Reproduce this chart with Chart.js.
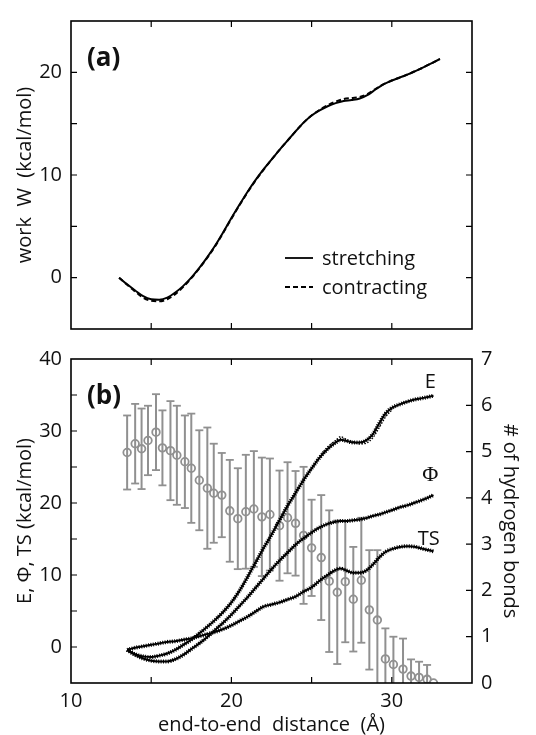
<!DOCTYPE html>
<html>
<head>
<meta charset="utf-8">
<script src="https://cdn.jsdelivr.net/npm/chart.js@4.4.1/dist/chart.umd.min.js"></script>
<style>
  html, body { margin: 0; padding: 0; background: #fff; }
  #wrap { position: relative; width: 536px; height: 735px; overflow: hidden; }
  .panel { position: absolute; left: 0; width: 536px; }
  #panelA { top: 0; height: 350px; }
  #panelB { top: 338px; height: 397px; }
</style>
</head>
<body>
<div id="wrap">
  <div class="panel" id="panelA"><canvas id="workChart"></canvas></div>
  <div class="panel" id="panelB"><canvas id="energyChart"></canvas></div>
</div>
<script>
// (a) work along the pulling coordinate
const workX = [13.0, 13.5, 14.0, 14.5, 15.0, 15.5, 16.0, 16.5, 17.0, 17.5, 18.0, 18.5, 19.0, 19.5, 20.0, 20.5, 21.0, 21.5, 22.0, 22.5, 23.0, 23.5, 24.0, 24.5, 25.0, 25.5, 26.0, 26.5, 27.0, 27.5, 28.0, 28.5, 29.0, 29.5, 30.0, 30.5, 31.0, 31.5, 32.0, 32.5, 33.0];
const workStretch = [0.0, -0.65, -1.25, -1.8, -2.1, -2.15, -1.95, -1.45, -0.8, 0.0, 0.95, 2.0, 3.15, 4.45, 5.8, 7.1, 8.35, 9.5, 10.55, 11.5, 12.45, 13.35, 14.25, 15.1, 15.8, 16.3, 16.7, 17.0, 17.2, 17.3, 17.45, 17.8, 18.35, 18.85, 19.2, 19.5, 19.8, 20.15, 20.5, 20.9, 21.3];
const workContract = [0.0, -0.7, -1.35, -1.95, -2.25, -2.3, -2.1, -1.6, -0.9, -0.05, 0.9, 1.95, 3.1, 4.4, 5.75, 7.05, 8.3, 9.45, 10.5, 11.5, 12.45, 13.35, 14.25, 15.1, 15.8, 16.35, 16.8, 17.15, 17.4, 17.5, 17.6, 17.9, 18.4, 18.85, 19.2, 19.5, 19.8, 20.15, 20.5, 20.9, 21.3];

// (b) energy, free energy and entropy terms
const energyX = [13.5, 14.0, 14.5, 15.0, 15.5, 16.0, 16.5, 17.0, 17.5, 18.0, 18.5, 19.0, 19.5, 20.0, 20.5, 21.0, 21.5, 22.0, 22.5, 23.0, 23.5, 24.0, 24.5, 25.0, 25.5, 26.0, 26.5, 26.8, 27.2, 27.6, 28.0, 28.4, 28.8, 29.2, 29.6, 30.0, 30.5, 31.0, 31.5, 32.0, 32.6];
const energyE = [-0.4, -1.0, -1.3, -1.4, -1.2, -0.9, -0.4, 0.3, 1.0, 1.9, 2.8, 3.8, 4.9, 6.2, 7.8, 9.7, 11.7, 13.7, 15.6, 17.6, 19.6, 21.4, 23.2, 24.8, 26.3, 27.5, 28.4, 28.8, 28.6, 28.4, 28.4, 28.7, 29.5, 31.0, 32.4, 33.2, 33.7, 34.1, 34.4, 34.6, 34.9];
const energyPhi = [-0.4, -1.1, -1.6, -1.9, -2.0, -2.0, -1.7, -1.1, -0.3, 0.5, 1.4, 2.4, 3.4, 4.5, 5.7, 6.9, 8.2, 9.5, 10.8, 12.0, 13.1, 14.2, 15.1, 15.9, 16.6, 17.1, 17.4, 17.5, 17.5, 17.6, 17.7, 17.9, 18.2, 18.4, 18.7, 19.0, 19.4, 19.7, 20.1, 20.5, 21.1];
const energyTS = [-0.4, -0.1, 0.1, 0.3, 0.5, 0.7, 0.8, 1.0, 1.2, 1.5, 1.8, 2.1, 2.5, 3.0, 3.6, 4.2, 4.9, 5.6, 5.9, 6.2, 6.6, 7.0, 7.7, 8.3, 9.2, 10.0, 10.7, 10.9, 10.6, 10.3, 10.3, 10.6, 11.4, 12.4, 13.2, 13.6, 13.9, 14.0, 13.9, 13.6, 13.3];
// contracting E where it separates from the stretching curve
const eContractX = [25.5, 26.0, 26.5, 26.8, 27.2, 27.6, 28.0, 28.4, 28.8, 29.2, 29.6, 30.0];
const eContract = [26.5, 27.8, 28.7, 29.2, 28.8, 28.5, 28.2, 28.3, 29.0, 30.4, 31.9, 32.9];

// number of hydrogen bonds (mean and standard deviation)
const hbX = [13.5, 14.0, 14.4, 14.8, 15.3, 15.7, 16.2, 16.6, 17.1, 17.5, 18.0, 18.5, 18.9, 19.4, 19.9, 20.4, 20.9, 21.4, 21.9, 22.4, 23.0, 23.5, 24.0, 24.5, 25.0, 25.6, 26.1, 26.6, 27.1, 27.6, 28.1, 28.6, 29.1, 29.6, 30.1, 30.7, 31.2, 31.7, 32.2, 32.6];
const hbMean = [4.98, 5.17, 5.06, 5.24, 5.42, 5.08, 5.02, 4.92, 4.78, 4.64, 4.38, 4.21, 4.10, 4.06, 3.72, 3.55, 3.70, 3.76, 3.59, 3.64, 3.40, 3.57, 3.45, 3.19, 2.92, 2.71, 2.20, 1.96, 2.19, 1.81, 2.22, 1.58, 1.36, 0.52, 0.40, 0.30, 0.15, 0.12, 0.08, 0.00];
const hbSd = [0.80, 0.86, 0.87, 0.75, 0.82, 0.81, 1.07, 1.07, 1.00, 1.18, 1.08, 1.31, 1.07, 0.91, 1.10, 1.09, 1.23, 1.25, 1.28, 1.21, 1.19, 1.20, 1.13, 1.48, 1.04, 1.35, 1.53, 1.55, 1.31, 1.13, 1.35, 1.29, 1.51, 0.66, 0.60, 0.66, 0.36, 0.34, 0.31, 0.00];

// text anchors for the curve names, in data units
const curveLabels = [
    { text: 'E', x: 32.4, y: 36.8, serif: false },
    { text: 'Φ', x: 32.4, y: 23.8, serif: true },
    { text: 'TS', x: 32.3, y: 15.0, serif: false }
];

const FONT = "'Open Sans', 'DejaVu Sans', sans-serif";
const INK = '#111';
const GRAY = '#909090';

const pts = (xs, ys) => xs.map((x, i) => ({ x: x, y: ys[i] }));

// closed frame plus inward tick marks on the chosen sides
const boxTicks = {
    id: 'boxTicks',
    afterDatasetsDraw(chart, args, opts) {
        const { ctx, chartArea: a } = chart;
        const len = 6;
        ctx.save();
        ctx.strokeStyle = '#000';
        ctx.lineWidth = 1.2;
        ctx.beginPath();
        (opts.marks || []).forEach(m => {
            const scale = chart.scales[m.scale];
            scale.ticks.forEach(t => {
                if (t.value <= scale.min || t.value >= scale.max) return;
                const p = scale.getPixelForValue(t.value);
                m.sides.forEach(side => {
                    if (side === 'bottom') { ctx.moveTo(p, a.bottom); ctx.lineTo(p, a.bottom - len); }
                    if (side === 'top') { ctx.moveTo(p, a.top); ctx.lineTo(p, a.top + len); }
                    if (side === 'left') { ctx.moveTo(a.left, p); ctx.lineTo(a.left + len, p); }
                    if (side === 'right') { ctx.moveTo(a.right, p); ctx.lineTo(a.right - len, p); }
                });
            });
        });
        ctx.stroke();
        ctx.lineWidth = 1.6;
        ctx.strokeRect(a.left, a.top, a.right - a.left, a.bottom - a.top);
        ctx.restore();
    }
};

// panel letter, legend and curve names
const annotations = {
    id: 'annotations',
    afterDraw(chart, args, opts) {
        const { ctx, chartArea: a } = chart;
        ctx.save();
        ctx.fillStyle = INK;
        ctx.font = 'bold 26px ' + FONT;
        ctx.textBaseline = 'alphabetic';
        ctx.textAlign = 'left';
        ctx.fillText(opts.letter, a.left + 16, a.top + 45);

        if (opts.legend) {
            ctx.font = '20px ' + FONT;
            ctx.textBaseline = 'middle';
            opts.legend.forEach((row, i) => {
                const y = a.top + 237 + i * 29;
                ctx.strokeStyle = '#000';
                ctx.lineWidth = 1.8;
                ctx.setLineDash(row.dash);
                ctx.beginPath();
                ctx.moveTo(a.left + 214, y);
                ctx.lineTo(a.left + 242, y);
                ctx.stroke();
                ctx.setLineDash([]);
                ctx.fillText(row.label, a.left + 251, y + 1);
            });
        }

        if (opts.curveLabels) {
            const xs = chart.scales.x, ys = chart.scales.y;
            ctx.textAlign = 'center';
            ctx.textBaseline = 'middle';
            opts.curveLabels.forEach(c => {
                ctx.font = c.serif ? "22px 'Liberation Serif', serif" : '20px ' + FONT;
                ctx.fillText(c.text, xs.getPixelForValue(c.x), ys.getPixelForValue(c.y));
            });
        }
        ctx.restore();
    }
};

const tickFont = { family: FONT, size: 20 };
const titleFont = { family: FONT, size: 20, lineHeight: 1 };

function lineSet(data, extra) {
    return Object.assign({
        data: data,
        showLine: true,
        pointRadius: 0,
        borderColor: '#000',
        borderWidth: 2,
        cubicInterpolationMode: 'monotone',
        fill: false
    }, extra);
}

// ---------- panel (a) ----------
new Chart(document.getElementById('workChart'), {
    type: 'scatter',
    data: {
        datasets: [
            lineSet(pts(workX, workStretch), { label: 'stretching' }),
            lineSet(pts(workX, workContract), { label: 'contracting', borderDash: [5, 3] })
        ]
    },
    options: {
        responsive: true,
        maintainAspectRatio: false,
        animation: false,
        events: [],
        layout: { padding: { top: 13, right: 64, left: 0, bottom: 0 } },
        scales: {
            x: {
                type: 'linear', min: 10, max: 35,
                grid: { display: false, drawTicks: false },
                border: { display: false },
                ticks: { stepSize: 5, display: false },
                afterFit: s => { s.height = 14; }
            },
            y: {
                type: 'linear', min: -5, max: 25,
                grid: { display: false, drawTicks: false },
                border: { display: false },
                ticks: {
                    stepSize: 5, autoSkip: false, padding: 9, color: INK, font: tickFont,
                    callback: v => (v % 10 === 0 ? v : '')
                },
                title: { display: true, text: 'work  W  (kcal/mol)', color: INK, font: titleFont, padding: { top: 15, bottom: 0 } },
                afterFit: s => { s.width = 71; }
            }
        },
        plugins: {
            legend: { display: false },
            tooltip: { enabled: false },
            boxTicks: { marks: [
                { scale: 'x', sides: ['bottom', 'top'] },
                { scale: 'y', sides: ['left', 'right'] }
            ] },
            annotations: {
                letter: '(a)',
                legend: [
                    { label: 'stretching', dash: [] },
                    { label: 'contracting', dash: [5, 3] }
                ]
            }
        }
    },
    plugins: [boxTicks, annotations]
});

// ---------- panel (b) ----------
const barSegments = [];
const capPoints = [];
hbX.forEach((x, i) => {
    if (hbSd[i] <= 0) return;
    const lo = hbMean[i] - hbSd[i];
    const hi = hbMean[i] + hbSd[i];
    barSegments.push({ x: x, y: lo }, { x: x, y: hi }, { x: x, y: null });
    capPoints.push({ x: x, y: lo }, { x: x, y: hi });
});

const hatch = { borderDash: [1, 1.4], borderWidth: 4 };

new Chart(document.getElementById('energyChart'), {
    type: 'scatter',
    data: {
        datasets: [
            lineSet(pts(energyX, energyE), { label: 'E' }),
            lineSet(pts(energyX, energyE), Object.assign({ label: 'E hatch' }, hatch)),
            lineSet(pts(eContractX, eContract), { label: 'E contracting', borderDash: [1.5, 1.5], borderWidth: 1.3 }),
            lineSet(pts(energyX, energyPhi), { label: 'Φ' }),
            lineSet(pts(energyX, energyPhi), Object.assign({ label: 'Φ hatch' }, hatch)),
            lineSet(pts(energyX, energyTS), { label: 'TS' }),
            lineSet(pts(energyX, energyTS), Object.assign({ label: 'TS hatch' }, hatch)),
            {
                label: 'hydrogen bonds',
                data: pts(hbX, hbMean),
                yAxisID: 'y2',
                pointStyle: 'circle',
                pointRadius: 3.8,
                pointBorderWidth: 1.8,
                pointBorderColor: GRAY,
                pointBackgroundColor: 'rgba(0,0,0,0)'
            },
            {
                label: 'caps',
                data: capPoints,
                yAxisID: 'y2',
                pointStyle: 'line',
                pointRadius: 4,
                pointBorderWidth: 1.8,
                pointBorderColor: GRAY
            },
            {
                label: 'bars',
                data: barSegments,
                yAxisID: 'y2',
                showLine: true,
                spanGaps: false,
                pointRadius: 0,
                borderColor: GRAY,
                borderWidth: 2
            }
        ]
    },
    options: {
        responsive: true,
        maintainAspectRatio: false,
        animation: false,
        events: [],
        layout: { padding: { top: 20, right: 0, left: 0, bottom: 0 } },
        scales: {
            x: {
                type: 'linear', min: 10, max: 35,
                grid: { display: false, drawTicks: false },
                border: { display: false },
                ticks: {
                    stepSize: 5, autoSkip: false, maxRotation: 0, padding: 6, color: INK, font: tickFont,
                    callback: v => (v % 10 === 0 ? v : '')
                },
                title: { display: true, text: 'end-to-end  distance  (Å)', color: INK, font: titleFont, padding: { top: 0, bottom: 0 } },
                afterFit: s => { s.height = 52; }
            },
            y: {
                type: 'linear', position: 'left', min: -5, max: 40,
                grid: { display: false, drawTicks: false },
                border: { display: false },
                ticks: {
                    stepSize: 5, autoSkip: false, padding: 9, color: INK, font: tickFont,
                    callback: v => (v % 10 === 0 ? v : '')
                },
                title: { display: true, text: 'E, Φ, TS (kcal/mol)', color: INK, font: titleFont, padding: { top: 15, bottom: 0 } },
                afterFit: s => { s.width = 71; }
            },
            y2: {
                type: 'linear', position: 'right', min: 0, max: 7,
                grid: { display: false, drawTicks: false },
                border: { display: false },
                ticks: { stepSize: 1, autoSkip: false, padding: 9, color: INK, font: tickFont },
                title: { display: true, text: '# of hydrogen bonds', color: INK, font: titleFont, padding: { top: 16, bottom: 0 } },
                afterFit: s => { s.width = 64; }
            }
        },
        plugins: {
            legend: { display: false },
            tooltip: { enabled: false },
            boxTicks: { marks: [
                { scale: 'x', sides: ['bottom', 'top'] },
                { scale: 'y', sides: ['left'] },
                { scale: 'y2', sides: ['right'] }
            ] },
            annotations: { letter: '(b)', curveLabels: curveLabels }
        }
    },
    plugins: [boxTicks, annotations]
});
</script>
</body>
</html>
